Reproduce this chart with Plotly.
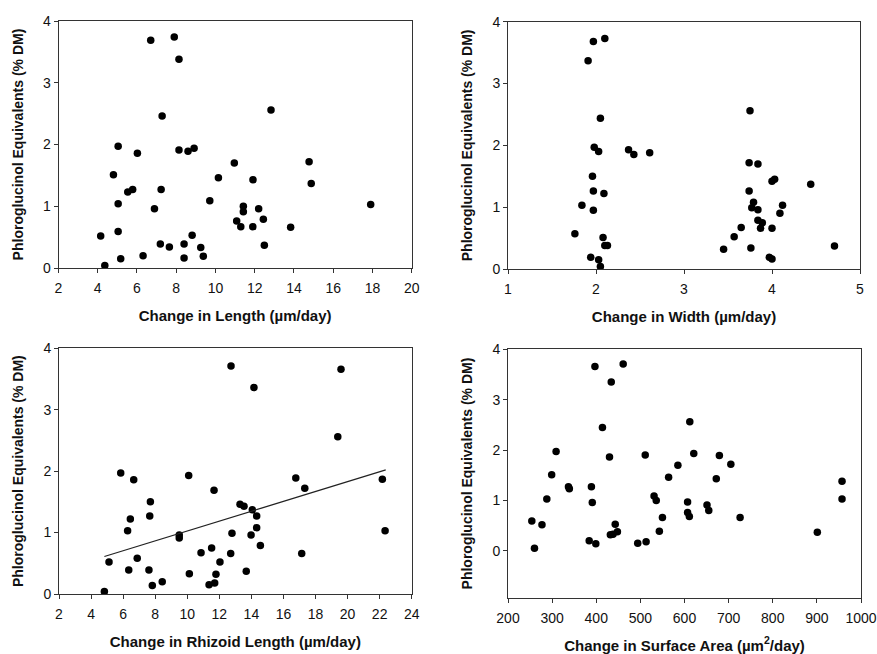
import plotly.graph_objects as go

# ---- Data ----
y_ticks = [0, 1, 2, 3, 4]

# Panel 1: Change in Length
len_x = [6.70, 7.90, 8.14, 7.28, 5.04, 6.02, 8.14, 8.60, 8.91, 4.80, 5.53, 5.78, 7.23, 5.04, 6.89,
         9.71, 10.15, 10.96, 4.15, 5.04, 4.36, 5.17, 6.31, 7.19, 7.65, 8.40, 8.81, 8.40, 9.25, 9.38,
         11.42, 11.42, 11.08, 11.29, 12.83, 14.77, 11.91, 14.88, 12.20, 11.90, 12.44, 13.83, 12.49, 17.91]
len_y = [3.69, 3.74, 3.38, 2.46, 1.97, 1.86, 1.91, 1.89, 1.94, 1.51, 1.23, 1.27, 1.27, 1.04, 0.96,
         1.09, 1.46, 1.70, 0.52, 0.59, 0.04, 0.15, 0.20, 0.39, 0.34, 0.39, 0.53, 0.16, 0.33, 0.19,
         1.00, 0.91, 0.76, 0.67, 2.56, 1.72, 1.43, 1.37, 0.96, 0.67, 0.79, 0.66, 0.37, 1.03]
len_ticks = [2, 4, 6, 8, 10, 12, 14, 16, 18, 20]

# Panel 2: Change in Width
wid_x = [1.97, 2.10, 1.91, 2.05, 1.98, 2.03, 2.37, 2.43, 2.61, 1.96, 1.97, 2.09, 1.84, 1.97, 1.76,
         2.08, 2.10, 2.13, 1.94, 2.03, 2.05, 3.75, 3.74, 3.84, 4.00, 4.03, 4.44, 3.74, 3.79, 3.77,
         3.84, 4.12, 4.09, 3.84, 3.89, 3.87, 4.00, 3.65, 3.57, 3.45, 3.76, 3.97, 4.00, 4.71]
wid_y = [3.68, 3.73, 3.37, 2.44, 1.97, 1.90, 1.93, 1.85, 1.88, 1.50, 1.26, 1.22, 1.03, 0.95, 0.57,
         0.51, 0.38, 0.38, 0.19, 0.15, 0.04, 2.56, 1.72, 1.70, 1.42, 1.45, 1.37, 1.26, 1.08, 0.99,
         0.96, 1.03, 0.90, 0.79, 0.75, 0.66, 0.66, 0.67, 0.52, 0.32, 0.34, 0.19, 0.16, 0.37]
wid_ticks = [1, 2, 3, 4, 5]

# Panel 3: Change in Rhizoid Length
rhz_x = [12.73, 5.85, 6.66, 10.09, 11.67, 7.70, 7.66, 6.45, 6.28, 9.50, 9.50, 13.29, 13.54, 12.79,
         11.52, 10.86, 12.71, 12.04, 5.12, 6.88, 6.35, 7.61, 10.13, 11.79, 7.82, 8.44, 11.36, 11.71,
         4.83, 13.68, 14.16, 19.59, 19.39, 16.77, 17.33, 22.17, 14.06, 14.33, 14.33, 13.98, 14.56,
         17.14, 22.34]
rhz_y = [3.71, 1.97, 1.86, 1.93, 1.69, 1.50, 1.27, 1.22, 1.03, 0.96, 0.91, 1.46, 1.43, 0.99,
         0.75, 0.67, 0.66, 0.52, 0.52, 0.58, 0.39, 0.39, 0.33, 0.32, 0.14, 0.20, 0.15, 0.18,
         0.04, 0.37, 3.36, 3.66, 2.56, 1.89, 1.72, 1.87, 1.37, 1.27, 1.08, 0.96, 0.79,
         0.66, 1.03]
rhz_trend_x = [4.83, 22.38]
rhz_trend_y = [0.61, 2.02]
rhz_ticks = [2, 4, 6, 8, 10, 12, 14, 16, 18, 20, 22, 24]

# Panel 4: Change in Surface Area
area_x = [397, 461, 434, 414, 309, 430, 511, 585, 299, 564, 337, 339, 389, 288, 391, 531, 536, 550,
          254, 277, 443, 432, 438, 448, 543, 384, 399, 494, 513, 260, 612, 621, 679, 705, 672, 607,
          651, 655, 607, 611, 726, 957, 957, 901]
area_y = [3.66, 3.71, 3.35, 2.45, 1.97, 1.86, 1.90, 1.70, 1.51, 1.46, 1.27, 1.23, 1.27, 1.03, 0.96,
          1.09, 1.00, 0.66, 0.59, 0.52, 0.53, 0.32, 0.33, 0.38, 0.39, 0.20, 0.14, 0.15, 0.18, 0.05,
          2.56, 1.93, 1.89, 1.72, 1.43, 0.97, 0.91, 0.80, 0.76, 0.68, 0.66, 1.38, 1.03, 0.37]
area_ticks = [200, 300, 400, 500, 600, 700, 800, 900, 1000]

Y_TITLE = "<b>Phloroglucinol Equivalents (% DM)</b>"

# ---- Figure ----
W, H = 877, 654
FONT = "Liberation Sans, Arial, sans-serif"
LINE = "#333333"
TXT = "#111111"

fig = go.Figure()

marker = dict(color="black", size=7.5, line=dict(width=0))
panels = [
    (len_x, len_y, "x", "y"),
    (wid_x, wid_y, "x2", "y2"),
    (rhz_x, rhz_y, "x3", "y3"),
    (area_x, area_y, "x4", "y4"),
]
for xs, ys, xa, ya in panels:
    fig.add_trace(go.Scatter(x=xs, y=ys, mode="markers", marker=marker,
                             xaxis=xa, yaxis=ya, showlegend=False, hoverinfo="skip"))

fig.add_trace(go.Scatter(x=rhz_trend_x, y=rhz_trend_y, mode="lines",
                         line=dict(color="#222222", width=1.2),
                         xaxis="x3", yaxis="y3", showlegend=False, hoverinfo="skip"))


def px_x(a, b):
    return [a / W, b / W]


def px_y(top, bottom):
    return [1 - bottom / H, 1 - top / H]


def axis(domain, rng, tickvals, title, anchor, standoff, is_x):
    d = dict(
        domain=domain, range=rng, tickvals=tickvals, ticktext=[str(t) for t in tickvals],
        ticks="outside", ticklen=4, tickwidth=1, tickcolor=LINE,
        showline=True, linecolor=LINE, linewidth=1, mirror=True,
        showgrid=False, zeroline=False, anchor=anchor, automargin=False,
        tickfont=dict(family=FONT, size=14, color=TXT),
        title=dict(text=title, font=dict(family=FONT, size=15 if is_x else 14, color=TXT),
                   standoff=standoff),
    )
    if is_x:
        d["ticklabelstandoff"] = 3
    return d


fig.update_layout(
    width=W, height=H,
    margin=dict(l=0, r=0, t=0, b=0),
    paper_bgcolor="white", plot_bgcolor="white",
    font=dict(family=FONT, color=TXT),
    xaxis=axis(px_x(58.5, 411.7), [2, 20], len_ticks, "<b>Change in Length (µm/day)</b>", "y", 15, True),
    yaxis=axis(px_y(21, 268), [0, 4], y_ticks, Y_TITLE, "x", 16, False),
    xaxis2=axis(px_x(508, 860), [1, 5], wid_ticks, "<b>Change in Width (µm/day)</b>", "y2", 15, True),
    yaxis2=axis(px_y(21.7, 269), [0, 4], y_ticks, Y_TITLE, "x2", 16, False),
    xaxis3=axis(px_x(59, 411.7), [2, 24], rhz_ticks, "<b>Change in Rhizoid Length (µm/day)</b>",
                "y3", 15, True),
    yaxis3=axis(px_y(348.3, 594), [0, 4], y_ticks, Y_TITLE, "x3", 16, False),
    xaxis4=axis(px_x(508, 861), [200, 1000], area_ticks,
                "<b>Change in Surface Area (µm<sup>2</sup>/day)</b>", "y4", 15, True),
    yaxis4=axis(px_y(349.3, 597.7), [-0.93, 4], y_ticks, Y_TITLE, "x4", 16, False),
)

fig.write_html(
    "out.html",
    config={"displayModeBar": False},
    post_script="document.body.style.margin='0';document.body.style.overflow='hidden';",
)
